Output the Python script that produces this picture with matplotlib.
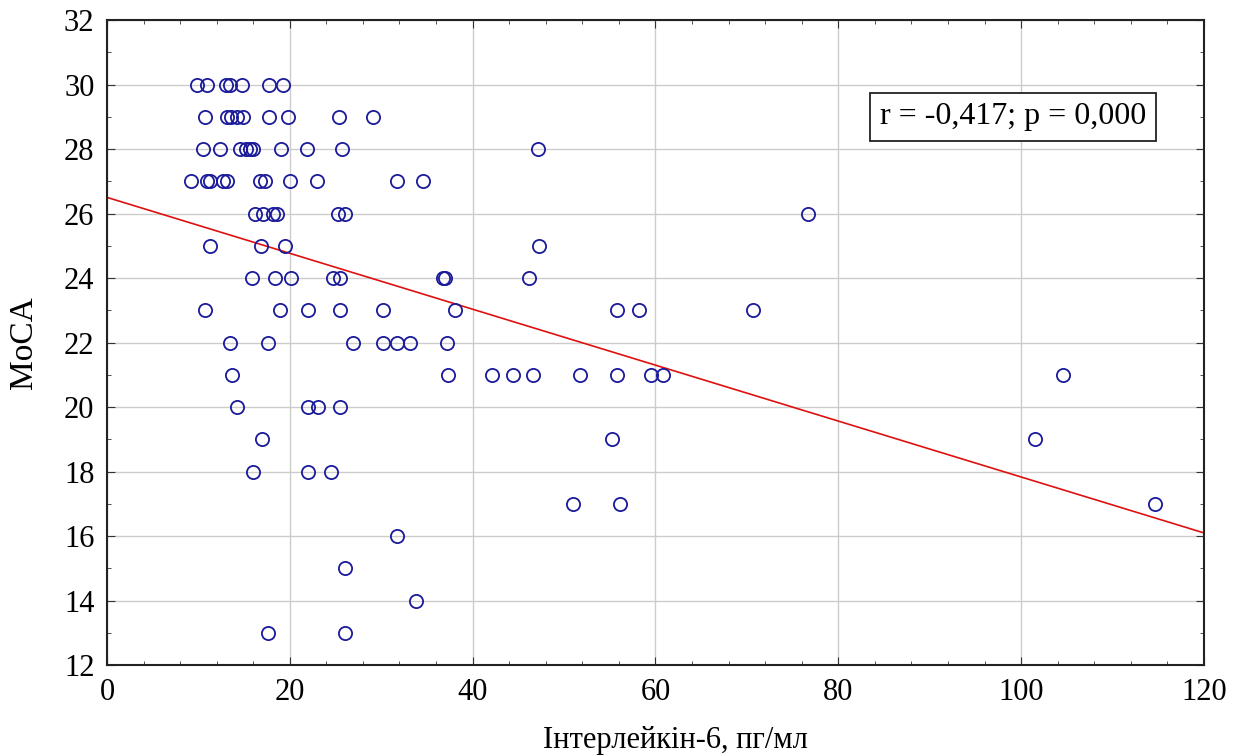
import numpy as np
import matplotlib
matplotlib.use("Agg")
import matplotlib.pyplot as plt
from matplotlib.ticker import MultipleLocator

# MoCA score rows, each with the IL-6 values
moca_30 = [9.8, 10.9, 13.0, 13.5, 14.8, 17.7, 19.3]
moca_29 = [10.7, 13.1, 13.6, 14.2, 14.9, 17.7, 19.8, 25.4, 29.1]
moca_28 = [10.5, 12.4, 14.6, 15.2, 15.6, 16.0, 19.0, 21.9, 25.7, 47.2]
moca_27 = [9.2, 10.9, 11.3, 12.7, 13.1, 16.7, 17.3, 20.0, 23.0, 31.7, 34.6]
moca_26 = [16.2, 17.1, 18.2, 18.6, 25.3, 26.0, 76.7]
moca_25 = [11.3, 16.9, 19.5, 47.3]
moca_24 = [15.9, 18.4, 20.1, 24.7, 25.5, 36.8, 37.0, 46.2]
moca_23 = [10.7, 18.9, 22.0, 25.5, 30.2, 38.1, 55.8, 58.2, 70.7]
moca_22 = [13.5, 17.6, 26.9, 30.2, 31.7, 33.2, 37.2]
moca_21 = [13.7, 37.3, 42.1, 44.4, 46.6, 51.8, 55.8, 59.5, 60.8, 104.6]
moca_20 = [14.2, 22.0, 23.1, 25.5]
moca_19 = [17.0, 55.2, 101.5]
moca_18 = [16.0, 22.0, 24.5]
moca_17 = [51.0, 56.1, 114.7]
moca_16 = [31.7]
moca_15 = [26.0]
moca_14 = [33.8]
moca_13 = [17.6, 26.0]

rows = {30: moca_30, 29: moca_29, 28: moca_28, 27: moca_27, 26: moca_26,
        25: moca_25, 24: moca_24, 23: moca_23, 22: moca_22, 21: moca_21,
        20: moca_20, 19: moca_19, 18: moca_18, 17: moca_17, 16: moca_16,
        15: moca_15, 14: moca_14, 13: moca_13}

il6 = np.array([x for score, xs in rows.items() for x in xs])
moca = np.array([score for score, xs in rows.items() for x in xs])

# regression line as shown on the chart
fit_intercept = 26.5
fit_slope = -0.0867
stats_text = "r = -0,417; p = 0,000"

plt.rcParams['font.family'] = ['Liberation Serif', 'DejaVu Serif']

fig = plt.figure(figsize=(12.48, 7.55), dpi=100)
ax = fig.add_axes([0.0857, 0.1192, 0.879, 0.8543])

ax.grid(True, color='#cccccc', linewidth=1.0)
ax.set_axisbelow(True)

line_x = np.array([0, 120])
ax.plot(line_x, fit_intercept + fit_slope * line_x, color='#e01010', linewidth=1.2, zorder=2)

ax.plot(il6, moca, linestyle='none', marker='o', markersize=9.5,
        markerfacecolor='none', markeredgecolor='#1a1a9a', markeredgewidth=1.3, zorder=3)

ax.set_xlim(0, 120)
ax.set_ylim(12, 32)
ax.xaxis.set_major_locator(MultipleLocator(20))
ax.xaxis.set_minor_locator(MultipleLocator(4))
ax.yaxis.set_major_locator(MultipleLocator(2))
ax.yaxis.set_minor_locator(MultipleLocator(1))
ax.tick_params(which='both', direction='in', top=True, right=True, color='#333333')
ax.tick_params(which='major', length=6, labelsize=22)
ax.tick_params(axis='y', which='major', pad=9)
ax.tick_params(axis='x', which='major', pad=9)
ax.tick_params(which='minor', length=3)
for s in ax.spines.values():
    s.set_linewidth(1.5)
    s.set_color('#222222')

ax.set_xlabel('Інтерлейкін-6, пг/мл', fontsize=22)
ax.set_ylabel('MoCA', fontsize=24)
ax.xaxis.set_label_coords(0.518, -0.095)
ax.yaxis.set_label_coords(-0.062, 0.5)

ax.text(0.826, 0.850, stats_text, transform=ax.transAxes, fontsize=23,
        ha='center', va='center',
        bbox=dict(boxstyle='square,pad=0.3', facecolor='white', edgecolor='#222222', linewidth=1.3))

fig.savefig('out.png', dpi=100)
